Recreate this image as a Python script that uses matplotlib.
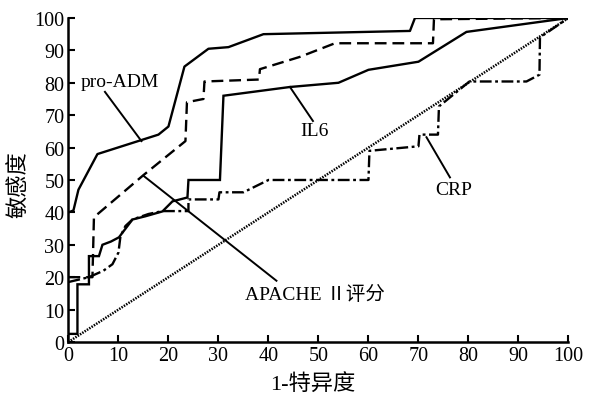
import matplotlib
matplotlib.use("Agg")
import matplotlib.pyplot as plt

plt.rcParams['font.family'] = ['Liberation Serif', 'Noto Sans CJK SC', 'DejaVu Sans']

# ROC curves (x = 1-specificity %, y = sensitivity %)
proadm_x = [0, 1, 2, 5.8, 18, 20, 23.2, 28, 32, 39, 68.3, 69.3, 100]
proadm_y = [40, 40.6, 47, 58, 64, 66.5, 85, 90.5, 91, 95, 96, 100, 100]

apache_x = [0, 4.8, 5.1, 15, 23.4, 23.7, 27, 27.2, 38.1, 38.3, 46.3, 53.3, 72.9, 73.1, 100]
apache_y = [20, 20, 38.5, 51.5, 62, 74, 75, 80.4, 81, 84.2, 88, 92.2, 92.2, 99.6, 100]

il6_x = [0, 1.8, 1.8, 4.1, 4.1, 6.1, 6.8, 8.5, 10.1, 12.8, 15.4, 18.8, 20.8, 23.8, 24, 30.3, 31, 44.3, 54, 60, 70, 79.6, 100]
il6_y = [2.5, 2.5, 17.8, 17.8, 26.5, 26.5, 30, 31, 32.3, 37.8, 38.8, 40.3, 43.4, 44.6, 50, 50, 76, 78.7, 80, 84, 86.5, 95.7, 100]

crp_x = [0, 4.1, 7, 8.8, 10, 10.4, 11.4, 12.8, 16, 18.8, 24, 24, 30, 30.2, 35, 40, 60, 60.2, 70, 70.2, 73.9, 74.1, 80.2, 91.6, 94.2, 94.3, 100]
crp_y = [18.5, 20, 22, 24, 27.6, 32.6, 35.8, 37.8, 39.5, 40.4, 40.4, 44, 44, 46.2, 46.2, 50, 50, 59, 60.4, 64, 64, 72.7, 80.4, 80.4, 82.5, 94, 100]

ref_x = [0, 100]
ref_y = [0, 100]

x_ticks = [0, 10, 20, 30, 40, 50, 60, 70, 80, 90, 100]
y_ticks = [0, 10, 20, 30, 40, 50, 60, 70, 80, 90, 100]

fig = plt.figure(figsize=(5.9, 4.02), dpi=100)
ax = fig.add_axes([0.116, 0.1468, 0.8475, 0.806])

lw = 1.7
ax.plot(ref_x, ref_y, color='black', lw=1.8, linestyle=(0, (0.6, 0.5)))
ax.plot(crp_x, crp_y, color='black', lw=lw, linestyle=(0, (5, 1.5, 1.2, 1.5)))
ax.plot(apache_x, apache_y, color='black', lw=lw, linestyle=(0, (5, 2.5)))
ax.plot(il6_x, il6_y, color='black', lw=lw, solid_joinstyle='miter')
ax.plot(proadm_x, proadm_y, color='black', lw=lw)

# annotation leader lines
ax.plot([7.3, 14.6], [77.2, 62.0], color='black', lw=1.4)
ax.plot([44.3, 48.9], [78.7, 68.2], color='black', lw=1.4)
ax.plot([71.6, 76.3], [63.2, 50.8], color='black', lw=1.4)
ax.plot([15.0, 41.6], [51.3, 18.9], color='black', lw=1.4)

tfs = 14
ax.text(10.3, 80.5, 'pro-ADM', fontsize=tfs, ha='center', va='center')
ax.text(49.2, 65.4, 'IL6', fontsize=tfs, ha='center', va='center')
ax.text(77.1, 47.2, 'CRP', fontsize=tfs, ha='center', va='center')
ax.text(35.3, 14.8, 'APACHE Ⅱ评分', fontsize=tfs, ha='left', va='center')

ax.set_xlim(0, 100)
ax.set_ylim(0, 100)
ax.set_xticks(x_ticks)
ax.set_yticks(y_ticks)
ax.tick_params(direction='in', length=5, width=1.5, labelsize=14.5, pad=3)
for s in ['top', 'right']:
    ax.spines[s].set_visible(False)
for s in ['left', 'bottom']:
    ax.spines[s].set_linewidth(1.8)

ax.set_xlabel('1-特异度', fontsize=16)
ax.set_ylabel('敏感度', fontsize=16)
ax.xaxis.set_label_coords(0.489, -0.13)
ax.yaxis.set_label_coords(-0.097, 0.488)
ax.yaxis.label.set_verticalalignment('center')
ax.xaxis.label.set_verticalalignment('center')

fig.savefig('out.png', dpi=100)
